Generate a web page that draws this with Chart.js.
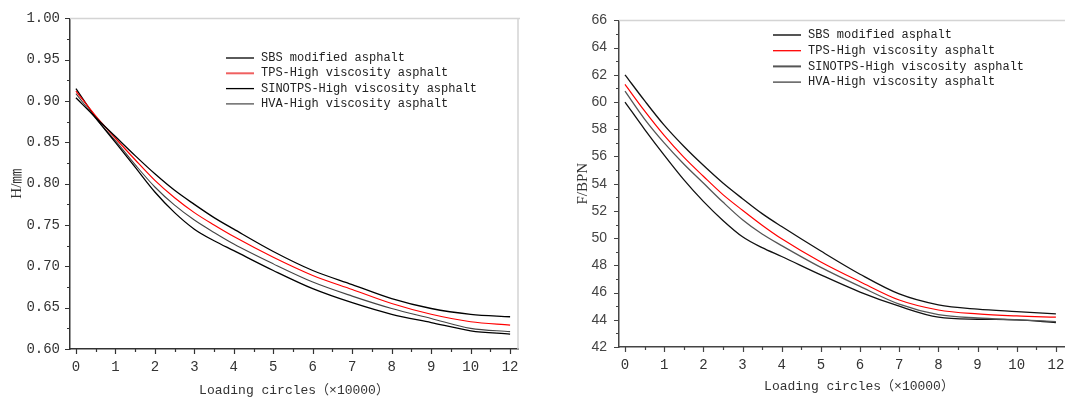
<!DOCTYPE html>
<html>
<head>
<meta charset="utf-8">
<script src="https://cdn.jsdelivr.net/npm/chart.js@4.4.0/dist/chart.umd.min.js"></script>
<style>
html, body { margin: 0; padding: 0; background: #fff; overflow: hidden; width: 1065px; height: 399px; }
#leftBox { position: absolute; left: 0; top: 0; width: 532px; height: 399px; }
#rightBox { position: absolute; left: 532px; top: 0; width: 567px; height: 399px; }
</style>
</head>
<body>
<div id="leftBox"><canvas id="heightChart"></canvas></div>
<div id="rightBox"><canvas id="bpnChart"></canvas></div>
<script>
// series names (same for both panels)
const seriesNames = ['SBS modified asphalt', 'TPS-High viscosity asphalt', 'SINOTPS-High viscosity asphalt', 'HVA-High viscosity asphalt'];

// tick labels along x; the source axis jumps from 10 straight to 12
const xTickLabels = ['0', '1', '2', '3', '4', '5', '6', '7', '8', '9', '10', '12'];

// x positions of the samples, in tick slots (slot 11 carries the "12" label)
const circlePos = [0, 0.5, 1, 1.5, 2, 2.5, 3, 3.5, 4, 5, 6, 7, 8, 9, 10, 11];

// left panel: H / mm
const hSBS     = [0.904, 0.880, 0.857, 0.834, 0.812, 0.792, 0.775, 0.759, 0.745, 0.718, 0.695, 0.678, 0.661, 0.649, 0.642, 0.639];
const hTPS     = [0.912, 0.882, 0.855, 0.829, 0.804, 0.783, 0.765, 0.750, 0.736, 0.711, 0.689, 0.672, 0.655, 0.642, 0.633, 0.629];
const hSINOTPS = [0.915, 0.880, 0.850, 0.820, 0.790, 0.765, 0.745, 0.731, 0.719, 0.695, 0.673, 0.656, 0.642, 0.632, 0.622, 0.618];
const hHVA     = [0.909, 0.879, 0.852, 0.823, 0.796, 0.774, 0.756, 0.741, 0.727, 0.703, 0.681, 0.664, 0.649, 0.637, 0.625, 0.621];

// right panel: F / BPN
const fSBS     = [62.0, 60.1, 58.3, 56.75, 55.35, 54.05, 52.9, 51.8, 50.85, 49.05, 47.35, 45.9, 45.1, 44.78, 44.6, 44.43];
const fTPS     = [61.3, 59.35, 57.55, 55.95, 54.55, 53.2, 52.05, 50.95, 49.95, 48.25, 46.8, 45.45, 44.72, 44.43, 44.28, 44.19];
const fSINOTPS = [60.8, 58.75, 57.0, 55.45, 54.05, 52.65, 51.35, 50.3, 49.45, 47.85, 46.45, 45.15, 44.38, 44.13, 44.0, 43.87];
const fHVA     = [60.0, 58.0, 56.1, 54.3, 52.7, 51.3, 50.1, 49.3, 48.65, 47.3, 46.04, 45.0, 44.19, 44.04, 44.0, 43.8];

// y tick labels
const hTicks = [0.60, 0.65, 0.70, 0.75, 0.80, 0.85, 0.90, 0.95, 1.00];
const fTicks = [42, 44, 46, 48, 50, 52, 54, 56, 58, 60, 62, 64, 66];

const monoFont = "'Liberation Mono', 'Noto Sans CJK SC', monospace";
const xSlots = xTickLabels.map((t, i) => i);

function toPoints(values) {
    return circlePos.map((c, i) => ({ x: c, y: values[i] }));
}

function makeDataset(label, values, color, width) {
    return {
        label: label,
        data: toPoints(values),
        borderColor: color,
        borderWidth: width,
        pointRadius: 0,
        fill: false,
        cubicInterpolationMode: 'monotone'
    };
}

// minor ticks halfway between the labelled ones
function withMinor(majors) {
    const out = [];
    majors.forEach((v, i) => {
        out.push({ v: v, major: true });
        if (i < majors.length - 1) out.push({ v: (v + majors[i + 1]) / 2, major: false });
    });
    return out;
}

// light frame on top/right plus outward tick marks
const frameTicks = {
    id: 'frameTicks',
    afterDraw(chart, args, opts) {
        const { ctx, chartArea: a } = chart;
        const xs = chart.scales.x, ys = chart.scales.y;
        ctx.save();
        ctx.strokeStyle = '#d4d4d4';
        ctx.lineWidth = 1.5;
        ctx.beginPath();
        ctx.moveTo(a.left, a.top);
        ctx.lineTo(a.right + 2, a.top);
        ctx.moveTo(a.right, a.top);
        ctx.lineTo(a.right, a.bottom);
        ctx.stroke();

        ctx.strokeStyle = opts.color;
        ctx.lineWidth = 1.2;
        ctx.beginPath();
        withMinor(xSlots).forEach(t => {
            const px = Math.round(xs.getPixelForValue(t.v)) + 0.5;
            ctx.moveTo(px, a.bottom);
            ctx.lineTo(px, a.bottom + (t.major ? 5 : 3));
        });
        withMinor(opts.yMajor).forEach(t => {
            const py = Math.round(ys.getPixelForValue(t.v)) + 0.5;
            ctx.moveTo(a.left, py);
            ctx.lineTo(a.left - (t.major ? 5 : 3), py);
        });
        ctx.stroke();
        ctx.restore();
    }
};

// legend drawn inside the plot
const innerLegend = {
    id: 'innerLegend',
    afterDraw(chart, args, opts) {
        const ctx = chart.ctx;
        ctx.save();
        ctx.font = '12px ' + monoFont;
        ctx.textBaseline = 'middle';
        ctx.fillStyle = '#222';
        chart.data.datasets.forEach((ds, i) => {
            const y = opts.top + i * opts.gap;
            ctx.strokeStyle = opts.lineColors[i];
            ctx.lineWidth = opts.lineWidths[i];
            ctx.beginPath();
            ctx.moveTo(opts.left, y);
            ctx.lineTo(opts.left + 28, y);
            ctx.stroke();
            ctx.fillText(ds.label, opts.left + 35, y);
        });
        ctx.restore();
    }
};

function axisOptions(cfg) {
    return {
        x: {
            type: 'linear',
            min: cfg.xMin,
            max: cfg.xMax,
            afterBuildTicks: s => { s.ticks = xSlots.map(v => ({ value: v })); },
            afterFit: s => { s.height = cfg.xHeight; },
            grid: { display: false, drawTicks: false },
            border: { display: true, color: cfg.axisColor, width: 1.5 },
            ticks: {
                font: { family: monoFont, size: 14 },
                color: '#333',
                padding: 10,
                maxRotation: 0,
                callback: v => xTickLabels[v]
            },
            title: {
                display: true,
                text: 'Loading circles（×10000）',
                font: { family: monoFont, size: 13 },
                color: '#333',
                padding: { top: 0, bottom: cfg.xTitlePad }
            }
        },
        y: {
            type: 'linear',
            min: cfg.yTicks[0],
            max: cfg.yTicks[cfg.yTicks.length - 1],
            afterBuildTicks: s => { s.ticks = cfg.yTicks.map(v => ({ value: v })); },
            afterFit: s => { s.width = cfg.yWidth; },
            grid: { display: false, drawTicks: false },
            border: { display: true, color: cfg.axisColor, width: 1.5 },
            ticks: {
                font: cfg.yTickFont,
                color: cfg.yTickColor,
                padding: cfg.yTickPad,
                callback: cfg.yFormat
            },
            title: {
                display: true,
                text: cfg.yTitle,
                font: { family: "'Liberation Serif', 'Noto Sans CJK SC', serif", size: 15 },
                color: '#333',
                padding: { top: cfg.yTitlePad, bottom: 0 }
            }
        }
    };
}

new Chart(document.getElementById('heightChart'), {
    type: 'line',
    data: {
        datasets: [
            makeDataset(seriesNames[0], hSBS, '#000', 1.3),
            makeDataset(seriesNames[1], hTPS, '#ff0000', 1.2),
            makeDataset(seriesNames[2], hSINOTPS, '#000', 1.3),
            makeDataset(seriesNames[3], hHVA, '#444', 1.1)
        ]
    },
    options: {
        responsive: true,
        maintainAspectRatio: false,
        animation: false,
        layout: { padding: { top: 14, right: 14, left: 0, bottom: 0 } },
        scales: axisOptions({
            xMin: -0.15, xMax: 11.2, xHeight: 50, xTitlePad: 1,
            yTicks: hTicks, yWidth: 70, yTickPad: 10, yTitlePad: 8,
            yTickFont: { family: monoFont, size: 14 }, yTickColor: '#333',
            yFormat: v => Number(v).toFixed(2),
            yTitle: 'H/㎜', axisColor: '#333'
        }),
        plugins: {
            legend: { display: false },
            tooltip: { enabled: false },
            frameTicks: { color: '#333', yMajor: hTicks },
            innerLegend: {
                left: 226, top: 58, gap: 15.3,
                lineColors: ['#000', '#f06060', '#000', '#444'],
                lineWidths: [1.3, 2, 1.3, 1.2]
            }
        }
    },
    plugins: [frameTicks, innerLegend]
});

new Chart(document.getElementById('bpnChart'), {
    type: 'line',
    data: {
        datasets: [
            makeDataset(seriesNames[0], fSBS, '#111', 1.3),
            makeDataset(seriesNames[1], fTPS, '#ff0000', 1.2),
            makeDataset(seriesNames[2], fSINOTPS, '#555', 1.3),
            makeDataset(seriesNames[3], fHVA, '#111', 1.3)
        ]
    },
    options: {
        responsive: true,
        maintainAspectRatio: false,
        animation: false,
        layout: { padding: { top: 15, right: 0, left: 0, bottom: 0 } },
        scales: axisOptions({
            xMin: -0.153, xMax: 12.1, xHeight: 52, xTitlePad: 5,
            yTicks: fTicks, yWidth: 87, yTickPad: 12, yTitlePad: 42,
            yTickFont: { family: "'Liberation Sans', Arial, sans-serif", size: 14 }, yTickColor: '#444',
            yFormat: v => String(v),
            yTitle: 'F/BPN', axisColor: '#444'
        }),
        plugins: {
            legend: { display: false },
            tooltip: { enabled: false },
            frameTicks: { color: '#444', yMajor: fTicks },
            innerLegend: {
                left: 241, top: 35, gap: 15.7,
                lineColors: ['#555', '#ff0000', '#555', '#333'],
                lineWidths: [2, 1.3, 2, 1.2]
            }
        }
    },
    plugins: [frameTicks, innerLegend]
});
</script>
</body>
</html>
